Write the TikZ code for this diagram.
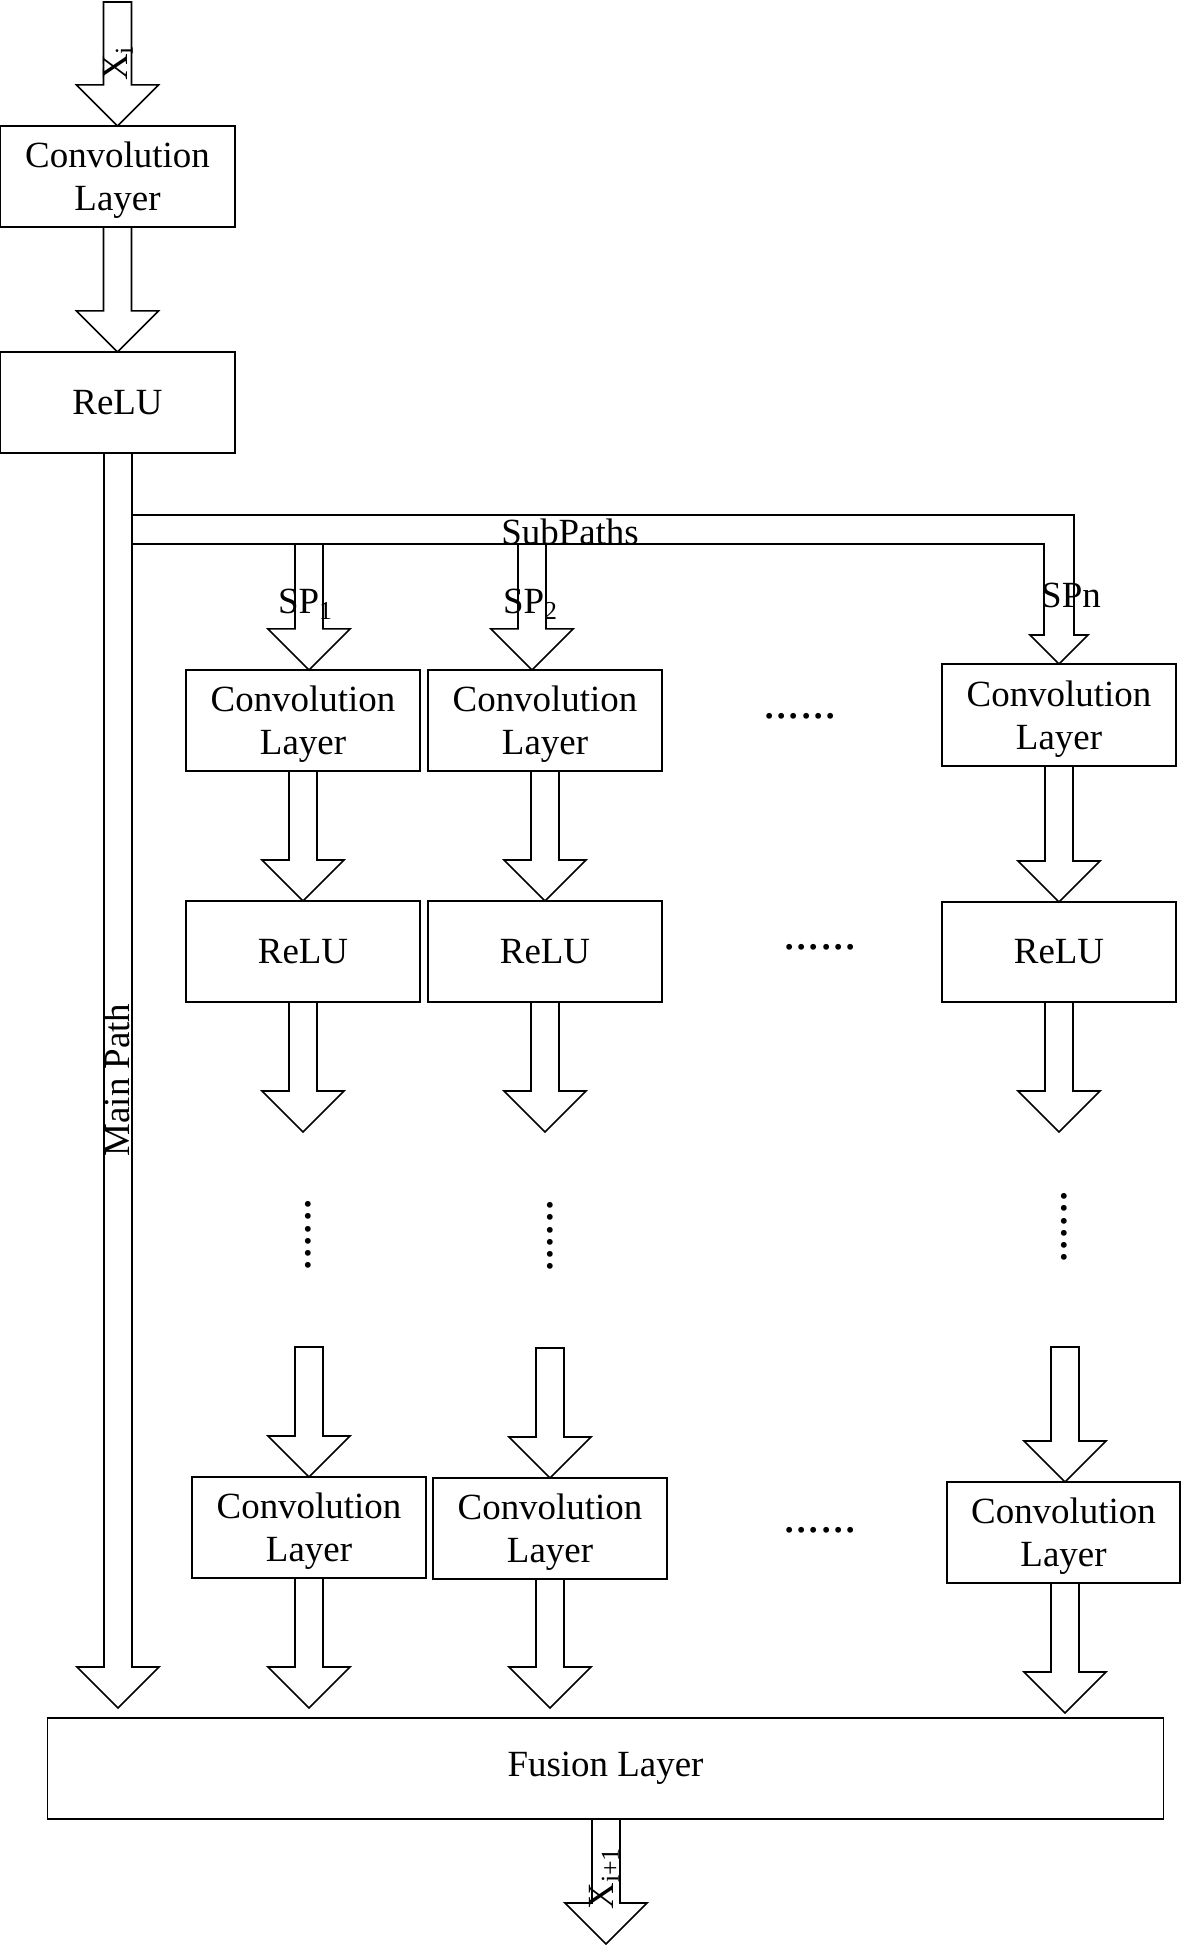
\documentclass[tikz,border=0pt]{standalone}
\usepackage{fontspec}
\setmainfont{Liberation Serif}
\usetikzlibrary{calc}
\newcommand\blockarrow[2]{%
  \draw[blk] let \p1=(#1), \p2=(#2) in
   (\x2-0.14cm,\y1) -- (\x2-0.14cm,\y2+0.41cm) -- (\x2-0.41cm,\y2+0.41cm) -- (\x2,\y2)
   -- (\x2+0.41cm,\y2+0.41cm) -- (\x2+0.14cm,\y2+0.41cm) -- (\x2+0.14cm,\y1);}
\newcommand\blockarrowc[2]{%
  \draw[blk] let \p1=(#1), \p2=(#2) in
   (\x2-0.14cm,\y1) -- (\x2-0.14cm,\y2+0.41cm) -- (\x2-0.41cm,\y2+0.41cm) -- (\x2,\y2)
   -- (\x2+0.41cm,\y2+0.41cm) -- (\x2+0.14cm,\y2+0.41cm) -- (\x2+0.14cm,\y1) -- cycle;}
\begin{document}
\begin{tikzpicture}[x=0.01cm,y=-0.01cm,
  blk/.style={draw, line width=0.45pt, line join=miter},
  txt/.style={font=\fontsize{10.5}{12.2}\selectfont, inner sep=0pt, outer sep=0pt},
  box/.style={draw, line width=0.45pt, rectangle, inner sep=0pt, outer sep=0pt,
    minimum width=2.34cm, minimum height=1.01cm, align=center,
    font=\fontsize{10.5}{12.2}\selectfont},
  two/.style={text depth=0pt},
  dots/.style={font=\fontsize{14}{14}\selectfont, inner sep=0pt, outer sep=0pt}]
\useasboundingbox (0,0) rectangle (1181,1945);

% main column
\node[box, two, minimum width=2.35cm] (conv0) at (117.5,176.5) {Convolution\\Layer};
\node[box, minimum width=2.35cm] (relu0) at (117.5,402.5) {ReLU};

% sub-path columns
\node[box, two] (c1a) at (303,720.5) {Convolution\\Layer};
\node[box, two] (c2a) at (545,720.5) {Convolution\\Layer};
\node[box, two, minimum height=1.02cm] (c3a) at (1059,715) {Convolution\\Layer};
\node[box] (r1) at (303,951.5) {ReLU};
\node[box] (r2) at (545,951.5) {ReLU};
\node[box, minimum height=1.00cm] (r3) at (1059,952) {ReLU};
\node[box, two] (c1b) at (309,1527.5) {Convolution\\Layer};
\node[box, two] (c2b) at (550,1528.5) {Convolution\\Layer};
\node[box, two, minimum width=2.33cm] (c3b) at (1063.5,1532.5) {Convolution\\Layer};
\node[box, minimum width=11.15cm] (fusion) at (605.5,1768.5) {Fusion Layer};

% free ends
\coordinate (itop) at (118,2);
\coordinate (mtip) at (118,1708);
\coordinate (sp1s) at (309,544);
\coordinate (sp2s) at (532,544);
\coordinate (e1) at (303,1132);
\coordinate (e2) at (545,1132);
\coordinate (e3) at (1059,1132);
\coordinate (s1) at (309,1347);
\coordinate (s2) at (550,1348);
\coordinate (s3) at (1065,1347);
\coordinate (f1) at (309,1708);
\coordinate (f2) at (550,1708);
\coordinate (f3) at (1065,1713);
\coordinate (otip) at (606,1944);

% block arrows
\blockarrowc{itop}{conv0.north}
\blockarrow{conv0.south}{relu0.north}
\blockarrow{relu0.south}{mtip}
\blockarrow{sp1s}{[xshift=0.06cm]c1a.north}
\blockarrow{sp2s}{[xshift=-0.13cm]c2a.north}
\blockarrow{c1a.south}{r1.north}
\blockarrow{c2a.south}{r2.north}
\blockarrow{c3a.south}{r3.north}
\blockarrow{r1.south}{e1}
\blockarrow{r2.south}{e2}
\blockarrow{r3.south}{e3}
\blockarrowc{s1}{c1b.north}
\blockarrowc{s2}{c2b.north}
\blockarrowc{s3}{[xshift=0.015cm]c3b.north}
\blockarrow{c1b.south}{f1}
\blockarrow{c2b.south}{f2}
\blockarrow{c3b.south}{f3}
\blockarrow{fusion.south}{otip}

% sub-path band with SPn arrow
\draw[blk] (132,515) -- (1074,515) -- (1074,635) -- (1088,635) -- (c3a.north)
  -- (1030,635) -- (1044,635) -- (1044,544) -- (132,544);

% labels
\node[txt, rotate=90] (lxi) at (118,63) {X\textsubscript{i}};
\node[txt, rotate=90] (lmain) at (117,1080) {Main Path};
\node[txt] (lsub) at (570,532) {SubPaths};
\node[txt] (lsp1) at (306,604) {SP\textsubscript{1}};
\node[txt] (lsp2) at (531,604) {SP\textsubscript{2}};
\node[txt] (lspn) at (1071,595) {SPn};
\node[txt, rotate=90] (lxo) at (604,1878) {X\textsubscript{i+1}};

% ellipses
\node[dots] (d1) at (800,716) {......};
\node[dots] (d2) at (820,947) {......};
\node[dots] (d3) at (820,1530) {......};
\node[dots, rotate=90] (v1) at (308,1235) {......};
\node[dots, rotate=90] (v2) at (550,1236) {......};
\node[dots, rotate=90] (v3) at (1064,1227) {......};
\end{tikzpicture}
\end{document}
